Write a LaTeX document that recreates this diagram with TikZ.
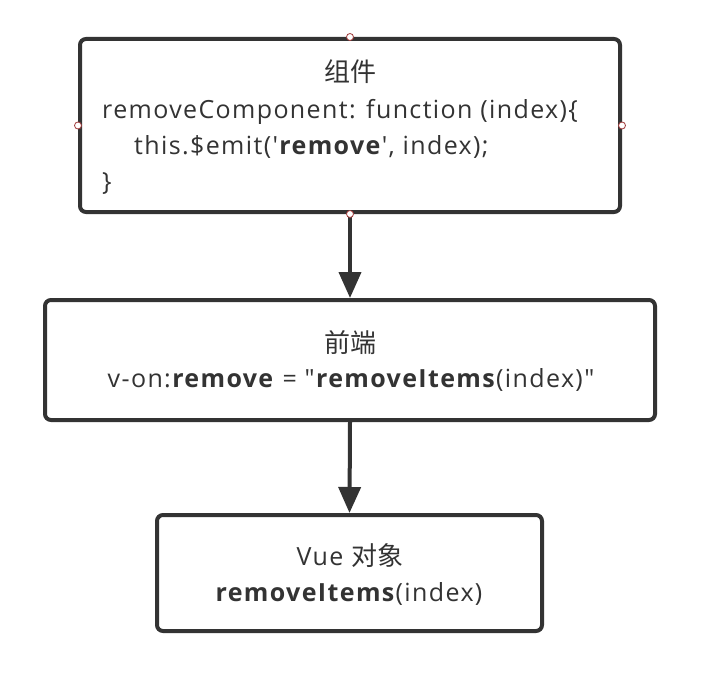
\documentclass[tikz,border=0pt]{standalone}
\usepackage{fontspec}
\setmainfont{Open Sans}[Ligatures=TeXOff, LetterSpace=5.5]
\newfontfamily\cjk{Noto Sans CJK SC}
\usetikzlibrary{arrows.meta}
\definecolor{ink}{HTML}{333333}
\definecolor{handle}{HTML}{A03A3A}
\newcommand{\cjkt}[1]{{\fontsize{26}{36}\cjk #1}}
\begin{document}
\begin{tikzpicture}[x=1pt,y=1pt,
  box/.style={draw=ink, line width=4pt, rounded corners=6pt, fill=white, inner sep=0pt},
  txt/.style={text=ink, inner sep=0pt, font=\fontsize{25}{36}\selectfont},
  conn/.style={draw=ink, line width=4pt, -{Triangle[length=26pt,width=22pt]}},
  hdl/.style={circle, draw=handle, fill=white, line width=0.8pt, minimum size=7pt, inner sep=0pt}
]
\useasboundingbox (0,0) rectangle (709,-674);
\fill[white] (0,0) rectangle (709,-674);

\node[box, minimum width=540pt, minimum height=173pt] (b1) at (350,-125.5) {};
\node[box, minimum width=610pt, minimum height=120pt] (b2) at (350,-360) {};
\node[box, minimum width=385pt, minimum height=116pt] (b3) at (349.5,-573) {};

\draw[conn] (b1.south) -- (b2.north);
\draw[conn] (b2.south) -- (b3.north);

\node[txt, anchor=base] (t1) at (350,-82) {\cjkt{组件}};
\node[txt, anchor=base west] (t2) at (102,-118) {removeComponent: function (index)\{};
\node[txt, anchor=base west] (t3) at (134,-154) {this.\$emit('\textbf{remove}', index);};
\node[txt, anchor=base west] (t4) at (102,-190) {\}};

\node[txt, anchor=base] (u1) at (350,-352) {\cjkt{前端}};
\node[txt, anchor=base] (u2) at (351,-387) {v-on:\textbf{remove} = "\textbf{removeItems}(index)"};

\node[txt, anchor=base] (v1) at (350,-565) {Vue \cjkt{对象}};
\node[txt, anchor=base] (v2) at (349,-601) {\textbf{removeItems}(index)};

\node[hdl] (h1) at (b1.north) {};
\node[hdl] (h2) at (b1.west) {};
\node[hdl] (h3) at (b1.east) {};
\node[hdl] (h4) at (b1.south) {};
\end{tikzpicture}
\end{document}
